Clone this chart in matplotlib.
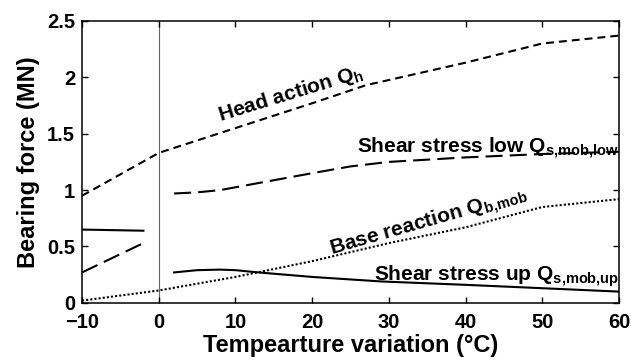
import matplotlib
matplotlib.use('Agg')
import matplotlib.pyplot as plt

# temperature variation (degC) and bearing forces (MN)
cool_x = [-10, -2]
head_x = [-10, 0, 10, 20, 27, 40, 50, 60]
head_y = [0.95, 1.33, 1.55, 1.77, 1.93, 2.13, 2.30, 2.37]
low_cool_y = [0.27, 0.53]
low_x = [2, 5, 8, 12, 16, 20, 25, 30, 40, 50, 60]
low_y = [0.97, 0.98, 1.00, 1.05, 1.10, 1.15, 1.21, 1.25, 1.29, 1.32, 1.34]
up_cool_y = [0.65, 0.64]
up_x = [2, 5, 8, 10, 13, 20, 29, 40, 50, 60]
up_y = [0.27, 0.29, 0.295, 0.29, 0.27, 0.23, 0.19, 0.16, 0.13, 0.10]
base_x = [-10, 0, 10, 20, 30, 40, 50, 60]
base_y = [0.02, 0.11, 0.23, 0.37, 0.53, 0.67, 0.85, 0.92]

xticks = [-10, 0, 10, 20, 30, 40, 50, 60]
yticks = [0, 0.5, 1, 1.5, 2, 2.5]
ytick_labels = ['0', '0.5', '1', '1.5', '2', '2.5']

plt.rcParams['font.family'] = ['Liberation Sans', 'DejaVu Sans']
plt.rcParams['font.weight'] = 'bold'
plt.rcParams['mathtext.fontset'] = 'custom'
plt.rcParams['mathtext.rm'] = 'Liberation Sans'
plt.rcParams['axes.unicode_minus'] = True

fig = plt.figure(figsize=(6.31, 3.61), dpi=100)
ax = fig.add_axes([0.13, 0.161, 0.851, 0.781])

ax.axvline(0, color='#666666', lw=0.8, zorder=1)

ax.plot(head_x, head_y, color='k', lw=1.5, dashes=(3.8, 2.4))
ax.plot(cool_x, low_cool_y, color='k', lw=1.5, dashes=(8.2, 3.4))
ax.plot(low_x, low_y, color='k', lw=1.5, dashes=(8.2, 3.4))
ax.plot(cool_x, up_cool_y, color='k', lw=1.5)
ax.plot(up_x, up_y, color='k', lw=1.5)
ax.plot(base_x, base_y, color='k', lw=1.5, dashes=(1, 1))

ax.text(17.2, 1.85, r'Head action Q$_{\rm h}$', fontsize=15, fontweight='bold',
        rotation=17, ha='center', va='center')
ax.text(25.8, 1.33, r'Shear stress low Q$_{\rm s{,}mob{,}low}$', fontsize=15,
        fontweight='bold', ha='left', va='baseline')
ax.text(35.2, 0.71, r'Base reaction Q$_{\rm b{,}mob}$', fontsize=15, fontweight='bold',
        rotation=16, ha='center', va='center')
ax.text(28.0, 0.20, r'Shear stress up Q$_{\rm s{,}mob{,}up}$', fontsize=15,
        fontweight='bold', ha='left', va='baseline')

ax.set_xlim(-10, 60)
ax.set_ylim(0, 2.5)
ax.set_xticks(xticks)
ax.set_yticks(yticks)
ax.set_yticklabels(ytick_labels)
ax.tick_params(direction='in', top=True, right=True, length=4, width=1,
               labelsize=14.5)
ax.tick_params(axis='x', pad=7)
ax.tick_params(axis='y', pad=5)
for lbl in ax.get_xticklabels() + ax.get_yticklabels():
    lbl.set_fontweight('bold')
for sp in ax.spines.values():
    sp.set_linewidth(1.1)

ax.set_xlabel('Tempearture variation (°C)', fontsize=17, fontweight='bold', labelpad=2)
ax.set_ylabel('Bearing force (MN)', fontsize=17, fontweight='bold', labelpad=5)

fig.savefig('out.png', dpi=100)
